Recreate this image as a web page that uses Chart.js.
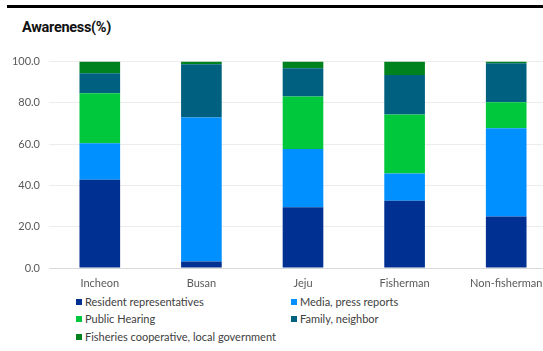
<!DOCTYPE html>
<html>
<head>
<meta charset="utf-8">
<script src="https://cdn.jsdelivr.net/npm/chart.js@4"></script>
<style>
  html, body { margin: 0; padding: 0; background: #fff; overflow: hidden; width: 543px; height: 351px; }
  #topline { position: absolute; left: 7px; top: 5px; width: 536px; height: 3px; background: #000; }
  #title { position: absolute; left: 22px; top: 19px; font: bold 14.5px Roboto, sans-serif; color: #111; letter-spacing: -0.3px; }
  #wrap { position: absolute; left: 0; top: 46px; line-height: 0; }
  #legend { position: absolute; left: 76px; top: 295px; width: 460px; font: 11px Lato, sans-serif; color: #404040; }
  .item { position: absolute; white-space: nowrap; }
  .box { display: inline-block; width: 6px; height: 6px; margin-right: 3px; vertical-align: 1px; }
</style>
</head>
<body>
<div id="topline"></div>
<div id="title">Awareness(%)</div>
<div id="wrap"><canvas id="chart" width="557" height="248"></canvas></div>
<div id="legend"></div>
<script>
const categories = ['Incheon', 'Busan', 'Jeju', 'Fisherman', 'Non-fisherman']
const seriesNames = ['Resident representatives', 'Media, press reports', 'Public Hearing', 'Family, neighbor', 'Fisheries cooperative, local government']
const resident = [42.7, 3.2, 29.4, 32.6, 25.0]
const media = [17.8, 69.7, 28.3, 13.2, 42.7]
const hearing = [24.2, 0.0, 25.4, 28.6, 12.6]
const family = [9.7, 25.8, 13.7, 19.1, 18.9]
const fisheries = [5.6, 1.3, 3.2, 6.5, 0.8]
const yTicks = [0, 20, 40, 60, 80, 100]
const colors = ['#003091', '#0090ff', '#00c83c', '#006080', '#00821e']

function build () {
  const ctx = document.getElementById('chart').getContext('2d')
  const values = [resident, media, hearing, family, fisheries]

  const chart = new Chart(ctx, {
    type: 'bar',
    data: {
      labels: categories,
      datasets: values.map((v, i) => ({
        label: seriesNames[i],
        data: v,
        backgroundColor: colors[i],
        barPercentage: 0.8,
        categoryPercentage: 0.5
      }))
    },
    options: {
      responsive: false,
      animation: false,
      layout: { padding: { top: 8, right: 0, bottom: 0, left: 0 } },
      plugins: {
        legend: { display: false },
        tooltip: { enabled: false },
        title: { display: false }
      },
      scales: {
        x: {
          stacked: true,
          grid: { display: false },
          border: { color: '#d9d9d9' },
          ticks: { color: '#595959', font: { family: 'Lato', size: 11 }, padding: 1, maxRotation: 0 },
          afterFit: s => { s.height = 26 }
        },
        y: {
          stacked: true,
          min: 0,
          max: 100,
          afterBuildTicks: s => { s.ticks = yTicks.map(v => ({ value: v })) },
          grid: { color: '#ececec', drawTicks: false },
          border: { display: false },
          ticks: {
            color: '#595959',
            font: { family: 'Lato', size: 11 },
            padding: 9,
            callback: v => Number(v).toFixed(1)
          },
          afterFit: s => { s.width = 49 }
        }
      }
    }
  })

  // legend in two columns, built from the chart's datasets
  const legend = document.getElementById('legend')
  chart.data.datasets.forEach((ds, i) => {
    const el = document.createElement('div')
    el.className = 'item'
    el.style.left = (i % 2 ? 215 : 0) + 'px'
    el.style.top = (Math.floor(i / 2) * 17.3) + 'px'
    el.innerHTML = '<span class="box" style="background:' + ds.backgroundColor + '"></span>' + ds.label
    legend.appendChild(el)
  })
  return chart
}

build()
</script>
</body>
</html>
